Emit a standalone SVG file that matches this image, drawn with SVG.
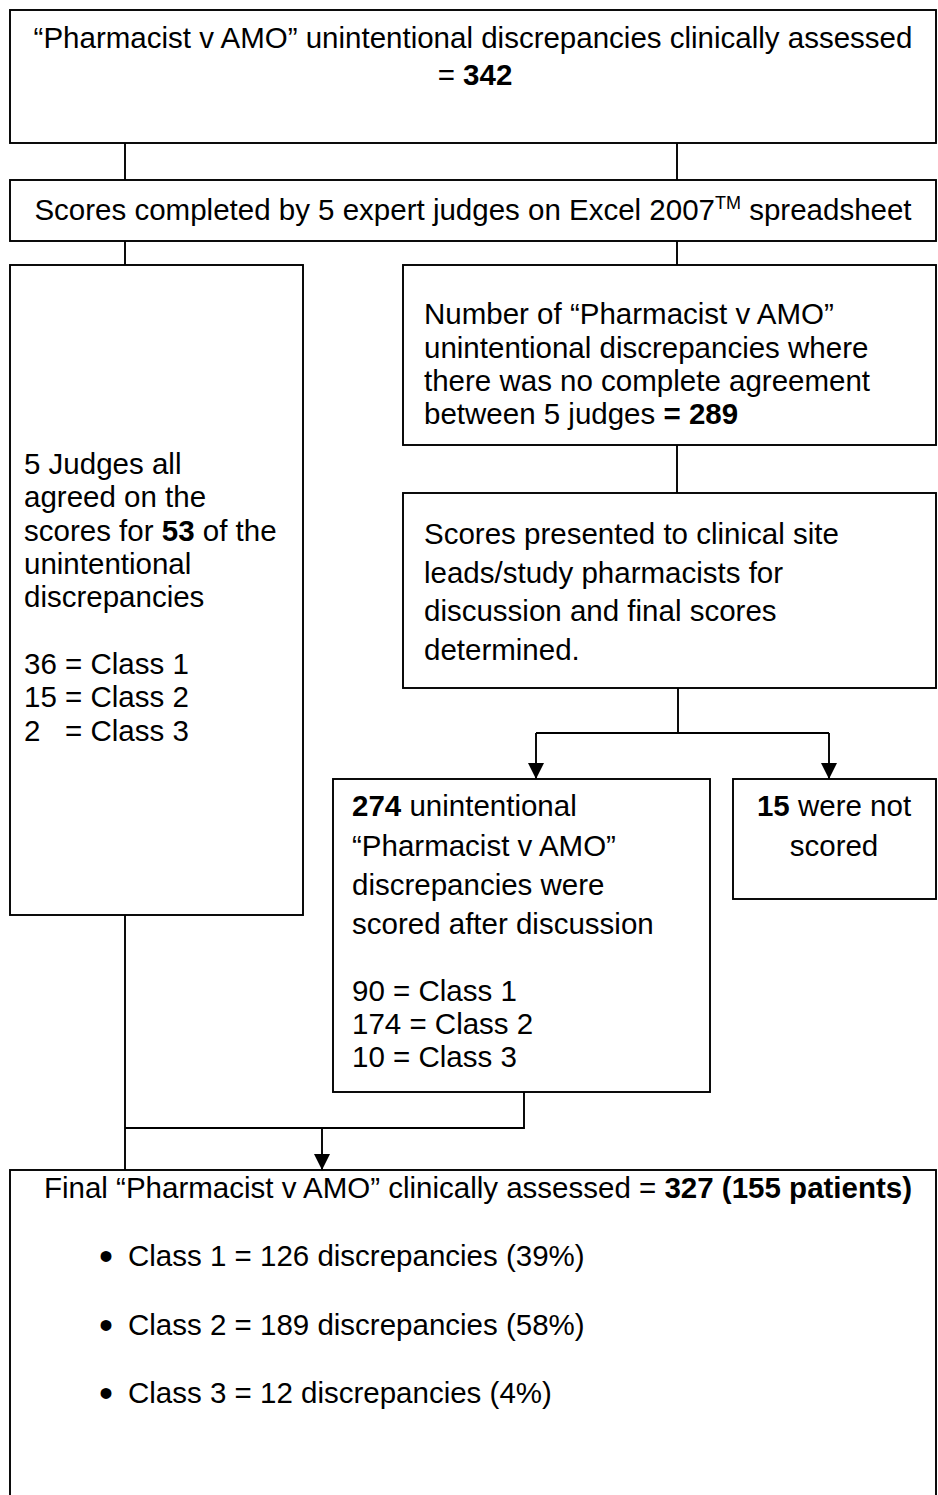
<svg xmlns="http://www.w3.org/2000/svg" width="938" height="1495" viewBox="0 0 938 1495">
  <defs>
    <style>
      .box { fill: #ffffff; stroke: #000000; stroke-width: 1.9; }
      .line { fill: none; stroke: #000000; stroke-width: 1.9; }
      text { font-family: "Liberation Sans", Arial, sans-serif; font-size: 29.5px; fill: #000000; }
      .c { text-anchor: middle; }
      .b { font-weight: bold; }
      .sup { font-size: 18px; }
      .bullet { font-size: 40px; }
    </style>
    <marker id="arrow" viewBox="0 0 16 16" refX="16" refY="8" markerWidth="16" markerHeight="16" markerUnits="userSpaceOnUse" orient="auto">
      <path d="M0,0 L16,8 L0,16 Z" fill="#000000"/>
    </marker>
  </defs>
  <rect width="938" height="1495" fill="#ffffff"/>

  <!-- connectors -->
  <g id="connectors">
    <line class="line" x1="125" y1="143" x2="125" y2="180"/>
    <line class="line" x1="677" y1="143" x2="677" y2="180"/>
    <line class="line" x1="125" y1="241" x2="125" y2="265"/>
    <line class="line" x1="677" y1="241" x2="677" y2="265"/>
    <line class="line" x1="677" y1="445" x2="677" y2="493"/>
    <polyline class="line" points="678,688 678,733"/>
    <polyline class="line" points="536,733 829,733"/>
    <line class="line" x1="536" y1="733" x2="536" y2="779" marker-end="url(#arrow)"/>
    <line class="line" x1="829" y1="733" x2="829" y2="779" marker-end="url(#arrow)"/>
    <line class="line" x1="125" y1="915" x2="125" y2="1170"/>
    <polyline class="line" points="524,1092 524,1128 125,1128"/>
    <line class="line" x1="322" y1="1128" x2="322" y2="1170" marker-end="url(#arrow)"/>
  </g>

  <!-- total assessed -->
  <g id="node-total">
    <rect class="box" x="10" y="10" width="926" height="133"/>
    <text class="c" x="473" y="48">“Pharmacist v AMO” unintentional discrepancies clinically assessed</text>
    <text class="c" x="475" y="85">= <tspan class="b">342</tspan></text>
  </g>

  <!-- judges scoring -->
  <g id="node-scores">
    <rect class="box" x="10" y="180" width="926" height="61"/>
    <text class="c" x="473" y="220">Scores completed by 5 expert judges on Excel 2007<tspan class="sup" dy="-11">TM</tspan><tspan dy="11"> spreadsheet</tspan></text>
  </g>

  <!-- full agreement -->
  <g id="node-agreed">
    <rect class="box" x="10" y="265" width="293" height="650"/>
    <text x="24" y="474">5 Judges all</text>
    <text x="24" y="507">agreed on the</text>
    <text x="24" y="541">scores for <tspan class="b">53</tspan> of the</text>
    <text x="24" y="574">unintentional</text>
    <text x="24" y="607">discrepancies</text>
    <text x="24" y="674">36 = Class 1</text>
    <text x="24" y="707">15 = Class 2</text>
    <text x="24" y="741" xml:space="preserve">2   = Class 3</text>
  </g>

  <!-- no complete agreement -->
  <g id="node-disagreed">
    <rect class="box" x="403" y="265" width="533" height="180"/>
    <text x="424" y="324">Number of “Pharmacist v AMO”</text>
    <text x="424" y="358">unintentional discrepancies where</text>
    <text x="424" y="391">there was no complete agreement</text>
    <text x="424" y="424">between 5 judges <tspan class="b">= 289</tspan></text>
  </g>

  <!-- discussion -->
  <g id="node-discussion">
    <rect class="box" x="403" y="493" width="533" height="195"/>
    <text x="424" y="544">Scores presented to clinical site</text>
    <text x="424" y="583">leads/study pharmacists for</text>
    <text x="424" y="621">discussion and final scores</text>
    <text x="424" y="660">determined.</text>
  </g>

  <!-- scored after discussion -->
  <g id="node-scored">
    <rect class="box" x="333" y="779" width="377" height="313"/>
    <text x="352" y="816"><tspan class="b">274</tspan> unintentional</text>
    <text x="352" y="856">“Pharmacist v AMO”</text>
    <text x="352" y="895">discrepancies were</text>
    <text x="352" y="934">scored after discussion</text>
    <text x="352" y="1001">90 = Class 1</text>
    <text x="352" y="1034">174 = Class 2</text>
    <text x="352" y="1067">10 = Class 3</text>
  </g>

  <!-- not scored -->
  <g id="node-not-scored">
    <rect class="box" x="733" y="779" width="203" height="120"/>
    <text class="c" x="834" y="816"><tspan class="b">15</tspan> were not</text>
    <text class="c" x="834" y="856">scored</text>
  </g>

  <!-- final result -->
  <g id="node-final">
    <rect class="box" x="10" y="1170" width="926" height="340"/>
    <text class="c" x="478" y="1198">Final “Pharmacist v AMO” clinically assessed = <tspan class="b">327 (155 patients)</tspan></text>
    <text class="bullet" x="99" y="1270">•</text>
    <text x="128" y="1266">Class 1 = 126 discrepancies (39%)</text>
    <text class="bullet" x="99" y="1339">•</text>
    <text x="128" y="1335">Class 2 = 189 discrepancies (58%)</text>
    <text class="bullet" x="99" y="1407">•</text>
    <text x="128" y="1403">Class 3 = 12 discrepancies (4%)</text>
  </g>
</svg>
